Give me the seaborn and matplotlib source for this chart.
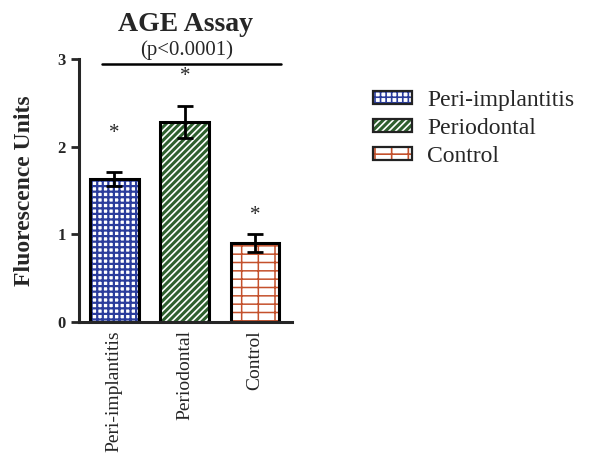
import pandas as pd
import seaborn as sns
import matplotlib.pyplot as plt
from matplotlib.patches import Patch

groups = ['Peri-implantitis', 'Periodontal', 'Control']
means = [1.63, 2.28, 0.90]
errors = [0.08, 0.18, 0.10]
star_heights = [2.15, 2.80, 1.22]

face_colors = ['white', '#2e5f2e', 'white']
hatch_colors = ['#2a3c9c', 'white', '#c4512c']
hatches = ['+++', '/////', '+-']
hatch_widths = [1.6, 1.2, 1.1]

df = pd.DataFrame({'group': groups, 'value': means})

sns.set_style('ticks')
plt.rcParams['font.family'] = ['Liberation Serif', 'DejaVu Serif']
plt.rcParams['hatch.linewidth'] = 1.2

fig = plt.figure(figsize=(6.09, 4.55), dpi=100)
ax = fig.add_axes([0.130, 0.292, 0.349, 0.578])

# hatched fills
sns.barplot(x='group', y='value', data=df, ax=ax, width=0.69, errorbar=None,
            order=groups, linewidth=0)
for p, fc, hc, h, hw in zip(ax.patches, face_colors, hatch_colors, hatches, hatch_widths):
    p.set_facecolor(fc)
    p.set_edgecolor(hc)
    p.set_hatch(h)
    p.set_linewidth(0)
    if hasattr(p, 'set_hatch_linewidth'):
        p.set_hatch_linewidth(hw)

# black outlines on top
sns.barplot(x='group', y='value', data=df, ax=ax, width=0.69, errorbar=None,
            order=groups, fill=False, edgecolor='black', linewidth=2.2)

ax.errorbar(range(len(groups)), means, yerr=errors, fmt='none',
            ecolor='black', elinewidth=2, capsize=6, capthick=2)

for i, h in enumerate(star_heights):
    ax.text(i, h, '*', ha='center', va='center', fontsize=15)

# significance line across groups
ax.plot([-0.18, 2.37], [2.95, 2.95], color='black', lw=1.8, clip_on=False)

ax.set_ylim(0, 3)
ax.set_xlim(-0.5, 2.52)
ax.set_yticks([0, 1, 2, 3])
ax.set_yticklabels(['0', '1', '2', '3'], fontweight='bold', fontsize=12)
ax.tick_params(axis='y', direction='out', length=6, width=2)
ax.tick_params(axis='x', length=0, pad=6)
plt.setp(ax.get_xticklabels(), rotation=90, fontsize=14)
ax.set_xlabel('')
ax.set_ylabel('Fluorescence Units', fontsize=17, fontweight='bold', labelpad=16)

sns.despine(ax=ax)
for s in ['left', 'bottom']:
    ax.spines[s].set_linewidth(2.2)

fig.text(0.305, 0.947, 'AGE Assay', ha='center', va='center',
         fontsize=20, fontweight='bold')
fig.text(0.307, 0.890, '(p<0.0001)', ha='center', va='center', fontsize=15)

handles = []
for fc, hc, h, hw in zip(face_colors, hatch_colors, hatches, hatch_widths):
    fill = Patch(facecolor=fc, edgecolor=hc, hatch=h, linewidth=0)
    if hasattr(fill, 'set_hatch_linewidth'):
        fill.set_hatch_linewidth(hw * 0.7)
    outline = Patch(facecolor='none', edgecolor='#222222', linewidth=1.6)
    handles.append((fill, outline))

fig.legend(handles, groups, loc='upper left', bbox_to_anchor=(0.593, 0.828),
           frameon=False, fontsize=17, handlelength=1.65, handleheight=0.45,
           labelspacing=0.3, handletextpad=0.65, borderpad=0)

plt.savefig('out.png', dpi=100)
